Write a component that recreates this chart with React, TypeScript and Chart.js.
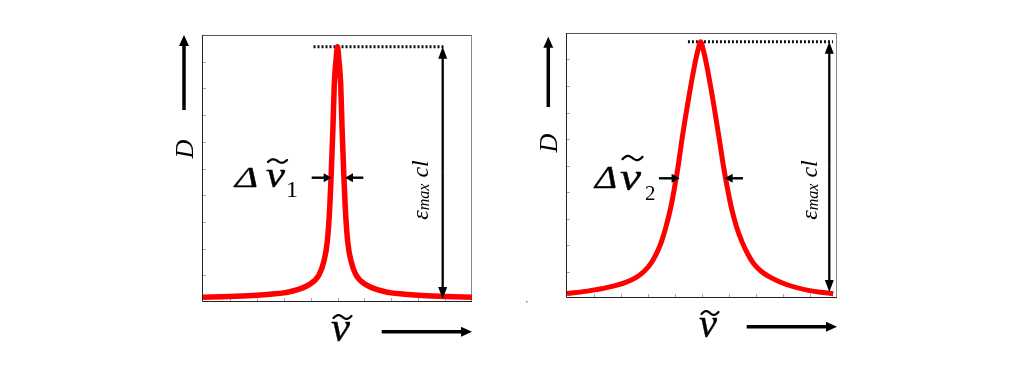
import React, { useEffect, useRef } from 'react';
import { Chart, registerables } from 'chart.js';

Chart.register(...registerables);

// ---- data (wavenumber in % of axis, absorbance in fraction of axis) ----
const leftWavenumber = [0, 10, 20, 25, 32.5, 39.3, 43.1, 44.9, 46.2, 47.1, 47.65, 48.3, 48.8, 49.5, 50, 50.5, 51.2, 51.7, 52.35, 52.9, 53.8, 55.1, 56.9, 60.7, 67.5, 75, 80, 90, 100];
const leftAbsorbance = [0.018, 0.021, 0.025, 0.029, 0.039, 0.064, 0.101, 0.151, 0.226, 0.351, 0.476, 0.65, 0.813, 0.91, 0.956, 0.91, 0.813, 0.65, 0.476, 0.351, 0.226, 0.151, 0.101, 0.064, 0.039, 0.029, 0.025, 0.021, 0.018];

const rightWavenumber = [0, 7.5, 15.1, 21.5, 25.5, 28.5, 31, 33, 34.9, 36.7, 38.4, 39.8, 41.2, 42.75, 44.9, 47.2, 48.5, 49.5, 50.5, 51.8, 54.1, 56.25, 57.9, 59.4, 60.9, 62.75, 64.9, 67, 69.1, 72, 75.7, 81.5, 89.9, 98.6];
const rightAbsorbance = [0.017, 0.026, 0.04, 0.058, 0.077, 0.1, 0.13, 0.165, 0.21, 0.27, 0.34, 0.415, 0.5, 0.61, 0.745, 0.875, 0.935, 0.967, 0.935, 0.875, 0.745, 0.61, 0.5, 0.415, 0.34, 0.27, 0.21, 0.165, 0.13, 0.1, 0.076, 0.05, 0.028, 0.016];

const xTickValues = [10, 20, 30, 40, 50, 60, 70, 80, 90];
const yTickValues = [0.1, 0.2, 0.3, 0.4, 0.5, 0.6, 0.7, 0.8, 0.9];

const yAxisLabel = 'D';
const xAxisLabel = 'ν';
const deltaLabel = 'Δ';
const epsMain = 'ε';
const epsSub = 'max';
const epsTail = ' cl';
const leftSub = '1';
const rightSub = '2';

const SERIF = '"Liberation Serif", "Times New Roman", serif';

type NuBox = { x: number; base: number; size: number; w: number; tildeDy: number; tildeW: number; tildeH: number };

type Spec = {
  xs: number[];
  ys: number[];
  lineWidth: number;
  pad: { left: number; right: number; top: number; bottom: number };
  sub: string;
  dotFrom: number;
  dotTo: number;
  dblX: number;
  dblBottom: number;
  epsBaseX: number;
  epsCy: number;
  dX: number;
  dCy: number;
  dArrowTop: number;
  dArrowBottom: number;
  dArrowX: number;
  nuAxis: NuBox;
  axArrowX1: number;
  axArrowY: number;
  halfY: number;
  tipL: number;
  tailL: number;
  tipR: number;
  tailR: number;
  deltaX: number;
  deltaBase: number;
  deltaSize: number;
  deltaW: number;
  nuLabel: NuBox;
  subX: number;
  subBase: number;
  subSize: number;
  dot?: boolean;
};

function arrow(ctx: CanvasRenderingContext2D, x1: number, y1: number, x2: number, y2: number, lw: number, hl: number, hw: number) {
  const ang = Math.atan2(y2 - y1, x2 - x1);
  const c = Math.cos(ang), s = Math.sin(ang);
  const bx = x2 - c * hl, by = y2 - s * hl;
  ctx.save();
  ctx.strokeStyle = '#000';
  ctx.fillStyle = '#000';
  ctx.lineWidth = lw;
  ctx.lineCap = 'butt';
  ctx.beginPath();
  ctx.moveTo(x1, y1);
  ctx.lineTo(bx + c, by + s);
  ctx.stroke();
  ctx.beginPath();
  ctx.moveTo(x2, y2);
  ctx.lineTo(bx - s * hw / 2, by + c * hw / 2);
  ctx.lineTo(bx + s * hw / 2, by - c * hw / 2);
  ctx.closePath();
  ctx.fill();
  ctx.restore();
}

function scaledText(ctx: CanvasRenderingContext2D, text: string, font: string, x: number, base: number, w: number) {
  ctx.save();
  ctx.font = font;
  const mw = ctx.measureText(text).width;
  ctx.translate(x, base);
  ctx.scale(w / mw, 1);
  ctx.fillText(text, 0, 0);
  ctx.lineWidth = 0.4;
  ctx.strokeStyle = '#000';
  ctx.strokeText(text, 0, 0);
  ctx.restore();
}

function nuTilde(ctx: CanvasRenderingContext2D, b: NuBox) {
  scaledText(ctx, xAxisLabel, `italic ${b.size}px ${SERIF}`, b.x, b.base, b.w);
  const cx = b.x + b.w / 2 + 2;
  const cy = b.base - b.tildeDy;
  ctx.save();
  ctx.strokeStyle = '#000';
  ctx.lineWidth = 2.2;
  ctx.lineCap = 'round';
  ctx.beginPath();
  for (let i = 0; i <= 24; i++) {
    const t = i / 24;
    const x = cx - b.tildeW / 2 + t * b.tildeW;
    const y = cy - (b.tildeH / 2) * Math.sin(2 * Math.PI * t) * 0.8 - (t - 0.5) * b.tildeH * 0.35;
    if (i === 0) ctx.moveTo(x, y);
    else ctx.lineTo(x, y);
  }
  ctx.stroke();
  ctx.restore();
}

function makePlugin(spec: Spec) {
  const peakIdx = spec.ys.indexOf(Math.max(...spec.ys));
  return {
    id: 'decor',
    beforeDatasetsDraw(chart: any) {
      const { ctx, chartArea: ca, scales } = chart;
      const xs = scales.x, ys = scales.y;
      ctx.save();
      ctx.lineWidth = 1;
      ctx.strokeStyle = '#555';
      ctx.beginPath();
      ctx.moveTo(ca.left - 0.5, ca.top + 0.5);
      ctx.lineTo(ca.right - 0.5, ca.top + 0.5);
      ctx.stroke();
      ctx.strokeStyle = '#888';
      ctx.beginPath();
      ctx.moveTo(ca.right - 0.5, ca.top);
      ctx.lineTo(ca.right - 0.5, ca.bottom);
      ctx.stroke();
      ctx.strokeStyle = '#222';
      ctx.beginPath();
      ctx.moveTo(ca.left - 0.5, ca.top);
      ctx.lineTo(ca.left - 0.5, ca.bottom - 0.5);
      ctx.lineTo(ca.right, ca.bottom - 0.5);
      ctx.stroke();
      ctx.strokeStyle = '#aaa';
      for (const v of yTickValues) {
        const y = Math.round(ys.getPixelForValue(v)) + 0.5;
        ctx.beginPath();
        ctx.moveTo(ca.left, y);
        ctx.lineTo(ca.left + 3, y);
        ctx.stroke();
      }
      for (const v of xTickValues) {
        const x = Math.round(xs.getPixelForValue(v)) + 0.5;
        ctx.beginPath();
        ctx.moveTo(x, ca.bottom - 1);
        ctx.lineTo(x, ca.bottom - 4);
        ctx.stroke();
      }
      const px = xs.getPixelForValue(spec.xs[peakIdx]);
      const py = ys.getPixelForValue(spec.ys[peakIdx]);
      ctx.strokeStyle = '#111';
      ctx.lineWidth = 3;
      ctx.setLineDash([2, 2]);
      ctx.beginPath();
      ctx.moveTo(px - spec.dotFrom, py);
      ctx.lineTo(ca.right - spec.dotTo, py);
      ctx.stroke();
      ctx.setLineDash([]);
      ctx.restore();
    },
    afterDatasetsDraw(chart: any) {
      const { ctx, chartArea: ca, scales } = chart;
      const xs = scales.x, ys = scales.y;
      const px = xs.getPixelForValue(spec.xs[peakIdx]);
      const py = ys.getPixelForValue(spec.ys[peakIdx]);
      ctx.save();
      ctx.fillStyle = '#000';
      ctx.textBaseline = 'alphabetic';
      ctx.textAlign = 'left';
      const dx = ca.right - spec.dblX;
      const yb = ca.bottom - spec.dblBottom;
      const mid = (py + yb) / 2;
      arrow(ctx, dx, mid, dx, py, 2.3, 12, 9);
      arrow(ctx, dx, mid, dx, yb, 2.3, 12, 9);
      // eps max cl
      ctx.save();
      ctx.translate(ca.right - spec.epsBaseX, spec.epsCy);
      ctx.rotate(-Math.PI / 2);
      ctx.font = `italic 24px ${SERIF}`;
      const w1 = ctx.measureText(epsMain).width;
      const w3 = ctx.measureText(epsTail).width;
      ctx.font = `italic 16px ${SERIF}`;
      const w2 = ctx.measureText(epsSub).width;
      let tx = -(w1 + w2 + w3) / 2;
      ctx.font = `italic 24px ${SERIF}`;
      ctx.fillText(epsMain, tx, 0);
      tx += w1;
      ctx.font = `italic 16px ${SERIF}`;
      ctx.fillText(epsSub, tx, 1);
      tx += w2;
      ctx.font = `italic 24px ${SERIF}`;
      ctx.fillText(epsTail, tx, 0);
      ctx.restore();
      // D
      ctx.save();
      ctx.translate(spec.dX, spec.dCy);
      ctx.rotate(-Math.PI / 2);
      ctx.font = `italic 26px ${SERIF}`;
      ctx.textAlign = 'center';
      ctx.fillText(yAxisLabel, 0, 0);
      ctx.restore();
      arrow(ctx, spec.dArrowX, spec.dArrowBottom, spec.dArrowX, spec.dArrowTop, 3.5, 11, 10);
      // axis nu
      nuTilde(ctx, spec.nuAxis);
      arrow(ctx, spec.axArrowX1, spec.axArrowY, ca.right, spec.axArrowY, 3.5, 11, 10);
      // half-width arrows
      arrow(ctx, px + spec.tailL, spec.halfY, px + spec.tipL, spec.halfY, 2.4, 8, 9);
      arrow(ctx, px + spec.tailR, spec.halfY, px + spec.tipR, spec.halfY, 2.4, 8, 9);
      // Delta label
      scaledText(ctx, deltaLabel, `italic ${spec.deltaSize}px ${SERIF}`, spec.deltaX, spec.deltaBase, spec.deltaW);
      nuTilde(ctx, spec.nuLabel);
      ctx.font = `${spec.subSize}px ${SERIF}`;
      ctx.fillText(spec.sub, spec.subX, spec.subBase);
      if (spec.dot) {
        ctx.fillStyle = '#888';
        ctx.fillRect(ca.left - 41, ca.bottom + 3, 1.5, 1.5);
      }
      ctx.restore();
    },
  };
}

const leftSpec: Spec = {
  xs: leftWavenumber,
  ys: leftAbsorbance,
  lineWidth: 5.5,
  pad: { left: 203, right: 43, top: 35, bottom: 78 },
  sub: leftSub,
  dotFrom: 24,
  dotTo: 27,
  dblX: 29.3,
  dblBottom: 3,
  epsBaseX: 44,
  epsCy: 190,
  dX: 193,
  dCy: 149,
  dArrowTop: 35,
  dArrowBottom: 110,
  dArrowX: 184,
  nuAxis: { x: 331, base: 341, size: 42, w: 19, tildeDy: 24, tildeW: 18, tildeH: 6 },
  axArrowX1: 381.7,
  axArrowY: 331.7,
  halfY: 177.7,
  tipL: -5.8,
  tailL: -25.8,
  tipR: 7.5,
  tailR: 25.8,
  deltaX: 235,
  deltaBase: 186.7,
  deltaSize: 29,
  deltaW: 23,
  nuLabel: { x: 266, base: 187, size: 35, w: 19, tildeDy: 26, tildeW: 19, tildeH: 5.5 },
  subX: 286,
  subBase: 196.7,
  subSize: 24,
};

const rightSpec: Spec = {
  xs: rightWavenumber,
  ys: rightAbsorbance,
  lineWidth: 5,
  pad: { left: 52, right: 192, top: 33, bottom: 82 },
  sub: rightSub,
  dotFrom: 12.7,
  dotTo: 4,
  dblX: 7.7,
  dblBottom: 6,
  epsBaseX: 20.3,
  epsCy: 190,
  dX: 556.7 - 515,
  dCy: 143,
  dArrowTop: 36.7,
  dArrowBottom: 107,
  dArrowX: 548.3 - 515,
  nuAxis: { x: 699 - 515, base: 337, size: 42, w: 18, tildeDy: 24, tildeW: 17, tildeH: 6 },
  axArrowX1: 746.7 - 515,
  axArrowY: 326.7,
  halfY: 178.3,
  tipL: -21,
  tailL: -41.7,
  tipR: 24,
  tailR: 42.3,
  deltaX: 595 - 515,
  deltaBase: 188.3,
  deltaSize: 31,
  deltaW: 22,
  nuLabel: { x: 620 - 515, base: 190, size: 37, w: 21, tildeDy: 32, tildeW: 20, tildeH: 6.5 },
  subX: 645 - 515,
  subBase: 200,
  subSize: 21,
  dot: true,
};

function Panel({ spec, left, width }: { spec: Spec; left: number; width: number }) {
  const ref = useRef<HTMLCanvasElement>(null);
  useEffect(() => {
    if (!ref.current) return;
    const chart = new Chart(ref.current, {
      type: 'line',
      data: {
        datasets: [
          {
            data: spec.xs.map((x, i) => ({ x, y: spec.ys[i] })),
            borderColor: '#ff0000',
            borderWidth: spec.lineWidth,
            pointRadius: 0,
            fill: false,
            cubicInterpolationMode: 'monotone',
            borderJoinStyle: 'round',
            clip: false as any,
          },
        ],
      },
      options: {
        responsive: false,
        animation: false,
        events: [],
        layout: { padding: spec.pad },
        plugins: { legend: { display: false }, tooltip: { enabled: false }, title: { display: false } },
        scales: {
          x: { type: 'linear', min: 0, max: 100, display: false },
          y: { type: 'linear', min: 0, max: 1, display: false },
        },
      },
      plugins: [makePlugin(spec)],
    } as any);
    return () => chart.destroy();
  }, [spec]);
  return (
    <canvas
      ref={ref}
      width={width}
      height={380}
      style={{ position: 'absolute', left, top: 0, width, height: 380 }}
    />
  );
}

export default function App() {
  return (
    <div style={{ position: 'absolute', left: 0, top: 0, width: 1029, height: 380, background: '#fff', overflow: 'hidden' }}>
      <Panel spec={leftSpec} left={0} width={515} />
      <Panel spec={rightSpec} left={515} width={514} />
    </div>
  );
}
